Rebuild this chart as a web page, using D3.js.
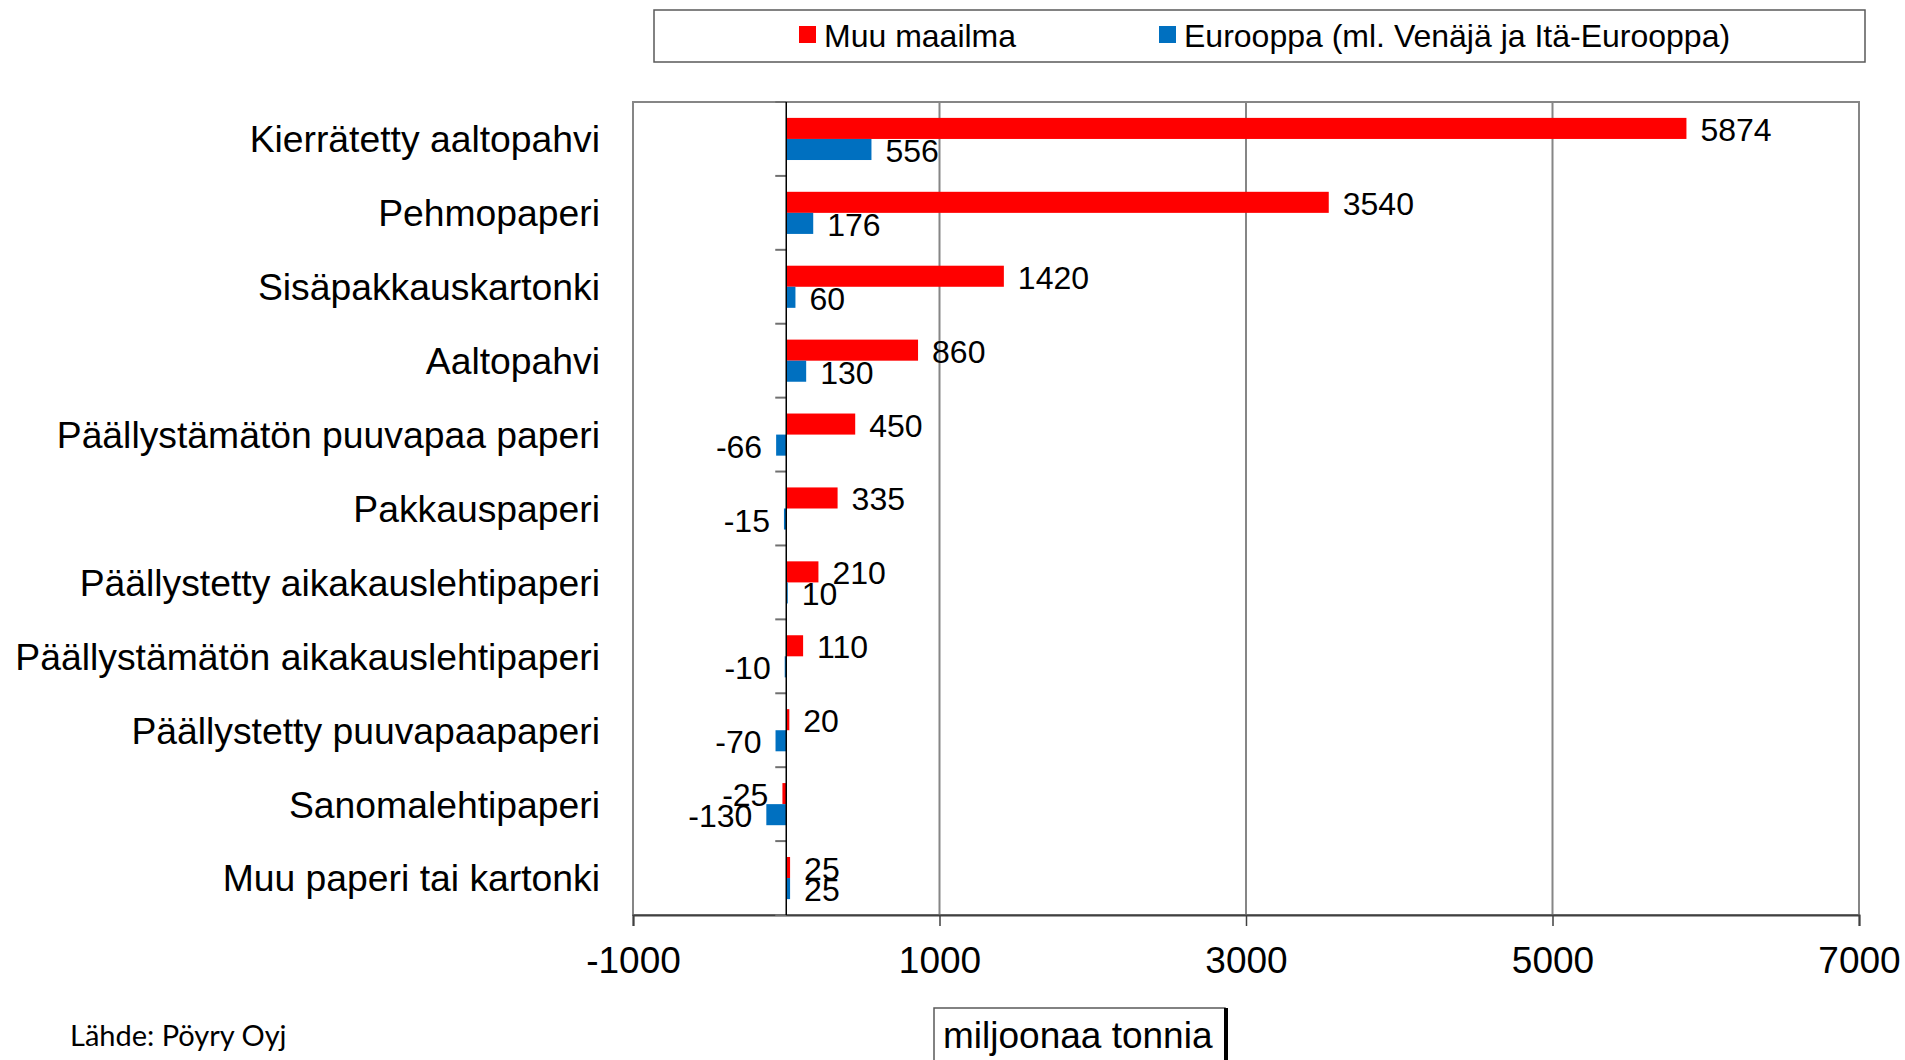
<!DOCTYPE html>
<html>
<head>
<meta charset="utf-8">
<script src="https://cdn.jsdelivr.net/npm/d3@7"></script>
<style>
  body { margin: 0; background: #fff; }
  text { font-family: "Liberation Sans", Arial, sans-serif; fill: #000; }
</style>
</head>
<body>
<div id="chart"></div>
<script>
const categories = [
    "Kierrätetty aaltopahvi",
    "Pehmopaperi",
    "Sisäpakkauskartonki",
    "Aaltopahvi",
    "Päällystämätön puuvapaa paperi",
    "Pakkauspaperi",
    "Päällystetty aikakauslehtipaperi",
    "Päällystämätön aikakauslehtipaperi",
    "Päällystetty puuvapaapaperi",
    "Sanomalehtipaperi",
    "Muu paperi tai kartonki"
];
const muuMaailma = [5874, 3540, 1420, 860, 450, 335, 210, 110, 20, -25, 25];
const eurooppa = [556, 176, 60, 130, -66, -15, 10, -10, -70, -130, 25];
const seriesNames = ["Muu maailma", "Eurooppa (ml. Venäjä ja Itä-Eurooppa)"];
const seriesColors = ["#ff0000", "#0070c0"];
const xTicks = [-1000, 1000, 3000, 5000, 7000];
const gridValues = [1000, 3000, 5000];

const W = 1905, H = 1060;
const plot = { left: 633, right: 1859, top: 102, bottom: 915 };

const svg = d3.select("#chart").append("svg")
    .attr("width", W)
    .attr("height", H);

// scales
const x = d3.scaleLinear()
    .domain([-1000, 7000])
    .range([plot.left, plot.right]);

const y = d3.scaleBand()
    .domain(categories)
    .range([plot.top, plot.bottom]);

const groupH = y.bandwidth() * 0.57;
const ySeries = d3.scaleBand()
    .domain(seriesNames)
    .range([(y.bandwidth() - groupH) / 2, (y.bandwidth() + groupH) / 2]);

const color = d3.scaleOrdinal().domain(seriesNames).range(seriesColors);

// gridlines
svg.append("g")
    .selectAll("line")
    .data(gridValues)
    .enter().append("line")
    .attr("x1", d => x(d)).attr("x2", d => x(d))
    .attr("y1", plot.top).attr("y2", plot.bottom)
    .attr("stroke", "#868686")
    .attr("stroke-width", 2);

// plot border
svg.append("rect")
    .attr("x", plot.left)
    .attr("y", plot.top)
    .attr("width", plot.right - plot.left)
    .attr("height", plot.bottom - plot.top)
    .attr("fill", "none")
    .attr("stroke", "#868686")
    .attr("stroke-width", 2);

// x axis
const xAxis = svg.append("g")
    .attr("transform", `translate(0, ${plot.bottom})`)
    .call(d3.axisBottom(x)
        .tickValues(xTicks)
        .tickSize(11)
        .tickPadding(21)
        .tickFormat(d => String(d)));
xAxis.select(".domain").attr("stroke", "#404040").attr("stroke-width", 2);
xAxis.selectAll(".tick line").attr("stroke", "#404040").attr("stroke-width", 1.5);
xAxis.selectAll(".tick text")
    .style("font-family", "Liberation Sans, Arial, sans-serif")
    .style("font-size", "37px")
    .attr("fill", "#000");

// bars
const rows = categories.map((c, i) => ({ cat: c, values: [muuMaailma[i], eurooppa[i]] }));

const groups = svg.selectAll(".cat")
    .data(rows)
    .enter().append("g")
    .attr("class", "cat")
    .attr("transform", d => `translate(0, ${y(d.cat)})`);

const bars = groups.selectAll("g.bar")
    .data(d => d.values.map((v, j) => ({ name: seriesNames[j], value: v })))
    .enter().append("g")
    .attr("class", "bar");

bars.append("rect")
    .attr("x", d => x(Math.min(0, d.value)))
    .attr("y", d => ySeries(d.name))
    .attr("width", d => Math.abs(x(d.value) - x(0)))
    .attr("height", ySeries.bandwidth())
    .attr("fill", d => color(d.name));

bars.append("text")
    .attr("x", d => d.value >= 0 ? x(d.value) + 14 : x(d.value) - 14)
    .attr("y", d => ySeries(d.name) + ySeries.bandwidth() / 2 + 1)
    .attr("dy", "0.36em")
    .attr("text-anchor", d => d.value >= 0 ? "start" : "end")
    .style("font-size", "32px")
    .text(d => String(d.value));

// category axis at zero
const boundaries = categories.map(c => y(c)).concat([plot.bottom]);
svg.append("g")
    .selectAll("line")
    .data(boundaries)
    .enter().append("line")
    .attr("x1", x(0) - 11).attr("x2", x(0))
    .attr("y1", d => d).attr("y2", d => d)
    .attr("stroke", "#707070")
    .attr("stroke-width", 2);

svg.append("line")
    .attr("x1", x(0)).attr("x2", x(0))
    .attr("y1", plot.top).attr("y2", plot.bottom)
    .attr("stroke", "#000")
    .attr("stroke-width", 1.5);

// category labels
svg.append("g")
    .selectAll("text")
    .data(categories)
    .enter().append("text")
    .attr("x", 600)
    .attr("y", d => y(d) + y.bandwidth() / 2)
    .attr("dy", "0.36em")
    .attr("text-anchor", "end")
    .style("font-size", "37.3px")
    .text(d => d);

// legend
svg.append("rect")
    .attr("x", 654).attr("y", 10)
    .attr("width", 1211).attr("height", 52)
    .attr("fill", "#fff")
    .attr("stroke", "#595959")
    .attr("stroke-width", 1.5);

const legendX = [799, 1159];
const legend = svg.selectAll(".legend")
    .data(seriesNames)
    .enter().append("g")
    .attr("class", "legend")
    .attr("transform", (d, i) => `translate(${legendX[i]}, 35)`);

legend.append("rect")
    .attr("x", 0).attr("y", -9)
    .attr("width", 17).attr("height", 17)
    .attr("fill", d => color(d));

legend.append("text")
    .attr("x", 25)
    .attr("y", 0)
    .attr("dy", "0.36em")
    .style("font-size", "32px")
    .text(d => d);

// axis title box
svg.append("rect")
    .attr("x", 934).attr("y", 1008)
    .attr("width", 291).attr("height", 60)
    .attr("fill", "#fff")
    .attr("stroke", "#595959")
    .attr("stroke-width", 1.5);
svg.append("line")
    .attr("x1", 1226).attr("x2", 1226)
    .attr("y1", 1008).attr("y2", 1060)
    .attr("stroke", "#000")
    .attr("stroke-width", 4);
svg.append("text")
    .attr("x", 943)
    .attr("y", 1035)
    .attr("dy", "0.36em")
    .style("font-size", "37px")
    .text("miljoonaa tonnia");

// source
svg.append("text")
    .attr("x", 70)
    .attr("y", 1036)
    .attr("dy", "0.36em")
    .style("font-family", "Lato, 'Open Sans', sans-serif")
    .style("font-size", "29px")
    .text("Lähde: Pöyry Oyj");
</script>
</body>
</html>
